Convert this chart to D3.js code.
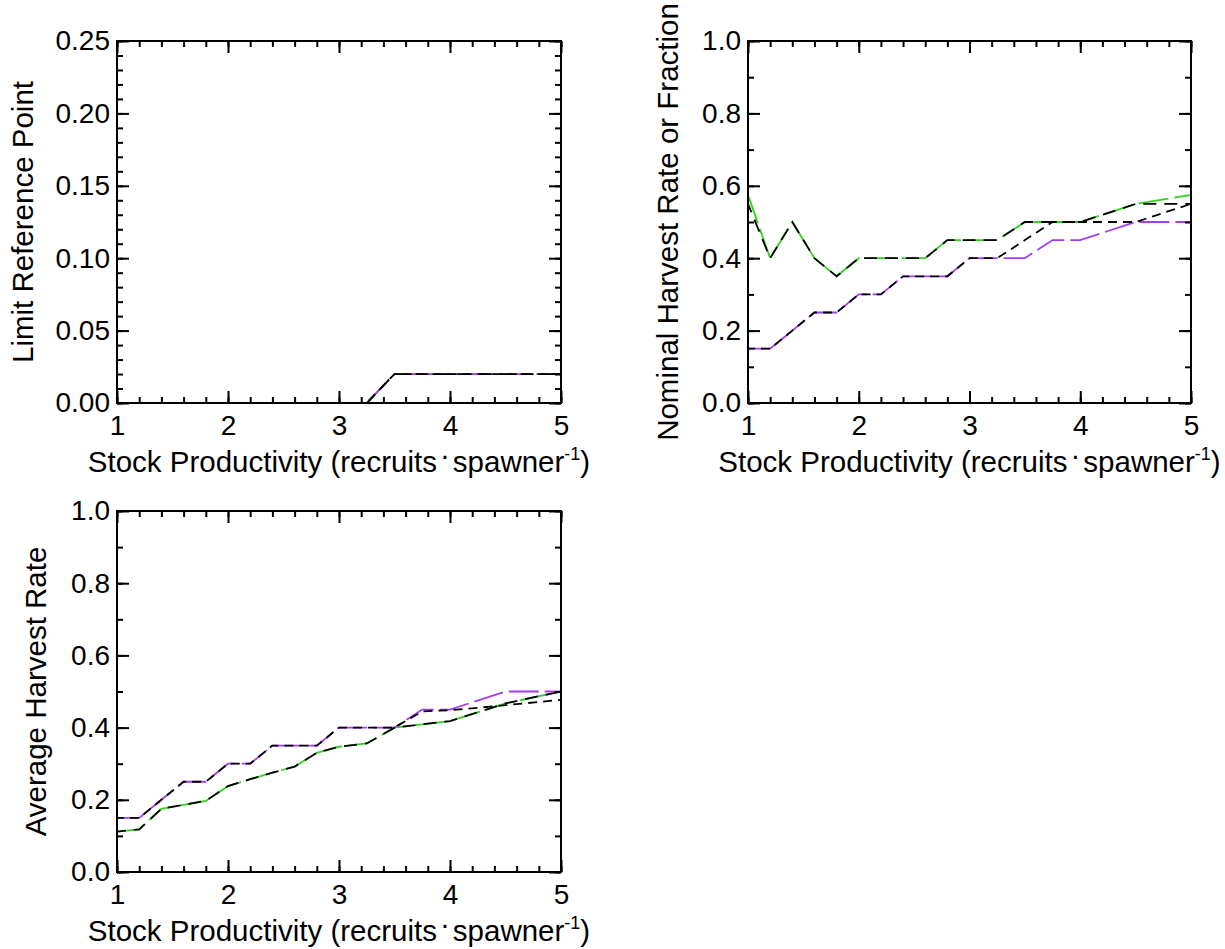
<!DOCTYPE html>
<html><head><meta charset="utf-8">
<script src="https://cdn.jsdelivr.net/npm/d3@7"></script>
<style>
body{margin:0;background:#fff}
svg text{font-family:"Liberation Sans",Arial,Helvetica,sans-serif;fill:#000}
</style>
</head><body>
<svg id="chart" width="1225" height="949"></svg>
<script>
// Stock productivity values (recruits per spawner) shared by every series
const productivity = [1, 1.2, 1.4, 1.6, 1.8, 2, 2.2, 2.4, 2.6, 2.8, 3, 3.25, 3.5, 3.75, 4, 4.5, 5];

// Limit reference point
const lrpGreen      = [0,0,0,0,0,0,0,0,0,0,0,0,0.02,0.02,0.02,0.02,0.02];
const lrpPurple     = [0,0,0,0,0,0,0,0,0,0,0,0,0.02,0.02,0.02,0.02,0.02];
const lrpGreenRef   = [0,0,0,0,0,0,0,0,0,0,0,0,0.02,0.02,0.02,0.02,0.02];
const lrpPurpleRef  = [0,0,0,0,0,0,0,0,0,0,0,0,0.02,0.02,0.02,0.02,0.02];

// Nominal harvest rate or fraction
const nomGreen      = [0.575,0.40,0.50,0.40,0.35,0.40,0.40,0.40,0.40,0.45,0.45,0.45,0.50,0.50,0.50,0.55,0.575];
const nomGreenRef   = [0.55,0.40,0.50,0.40,0.35,0.40,0.40,0.40,0.40,0.45,0.45,0.45,0.50,0.50,0.50,0.55,0.55];
const nomPurple     = [0.15,0.15,0.20,0.25,0.25,0.30,0.30,0.35,0.35,0.35,0.40,0.40,0.40,0.45,0.45,0.50,0.50];
const nomPurpleRef  = [0.15,0.15,0.20,0.25,0.25,0.30,0.30,0.35,0.35,0.35,0.40,0.40,0.45,0.50,0.50,0.50,0.55];

// Average harvest rate
const avgGreen      = [0.112,0.118,0.175,0.186,0.197,0.238,0.257,0.275,0.292,0.33,0.347,0.356,0.40,0.409,0.418,0.467,0.50];
const avgGreenRef   = [0.112,0.118,0.175,0.186,0.197,0.238,0.257,0.275,0.292,0.33,0.347,0.356,0.40,0.409,0.418,0.467,0.50];
const avgPurple     = [0.15,0.15,0.20,0.25,0.25,0.30,0.30,0.35,0.35,0.35,0.40,0.40,0.40,0.45,0.45,0.50,0.50];
const avgPurpleRef  = [0.15,0.15,0.20,0.25,0.25,0.30,0.30,0.35,0.35,0.35,0.40,0.40,0.40,0.445,0.448,0.462,0.477];

// Axis ticks
const xMajorTicks = [1, 2, 3, 4, 5];
const xMinorTicks = d3.range(1, 5.0001, 0.2);
const lrpMajorTicks = [0, 0.05, 0.10, 0.15, 0.20, 0.25];
const lrpMinorTicks = d3.range(0, 0.2501, 0.01);
const rateMajorTicks = [0, 0.2, 0.4, 0.6, 0.8, 1.0];
const rateMinorTicks = d3.range(0, 1.0001, 0.1);

const GREEN = "#2fd41c", PURPLE = "#a23cf8";
const TICK_FONT = 28, TITLE_FONT = 29.5;

const svg = d3.select("#chart");

const panels = [
  {left:117, top:41, right:561, bottom:403, yMax:0.25, yMajor:lrpMajorTicks, yMinor:lrpMinorTicks, fmt:d3.format(".2f"),
   title:"Limit Reference Point", titleX:33,
   green:lrpGreen, purple:lrpPurple, greenRef:lrpGreenRef, purpleRef:lrpPurpleRef},
  {left:748, top:41, right:1191, bottom:403, yMax:1.0, yMajor:rateMajorTicks, yMinor:rateMinorTicks, fmt:d3.format(".1f"),
   title:"Nominal Harvest Rate or Fraction", titleX:678,
   green:nomGreen, purple:nomPurple, greenRef:nomGreenRef, purpleRef:nomPurpleRef},
  {left:117, top:511, right:561, bottom:872, yMax:1.0, yMajor:rateMajorTicks, yMinor:rateMinorTicks, fmt:d3.format(".1f"),
   title:"Average Harvest Rate", titleX:46,
   green:avgGreen, purple:avgPurple, greenRef:avgGreenRef, purpleRef:avgPurpleRef}
];

panels.forEach(p => {
  const w = p.right - p.left, h = p.bottom - p.top;
  const x = d3.scaleLinear().domain([1, 5]).range([0, w]);
  const y = d3.scaleLinear().domain([0, p.yMax]).range([h, 0]);
  const g = svg.append("g").attr("transform", `translate(${p.left},${p.top})`);

  const line = d3.line().x((d, i) => x(productivity[i])).y(d => y(d));

  const series = [
    {v:p.green,     color:GREEN,  dash:"30,6",  off:0},
    {v:p.purple,    color:PURPLE, dash:"30,6",  off:0},
    {v:p.greenRef,  color:"#000", dash:"13,8",  off:4},
    {v:p.purpleRef, color:"#000", dash:"9,6",   off:2}
  ];
  series.forEach(s => {
    g.append("path").datum(s.v)
      .attr("d", line)
      .attr("fill", "none")
      .attr("stroke", s.color)
      .attr("stroke-width", 1.8)
      .attr("stroke-dasharray", s.dash)
      .attr("stroke-dashoffset", s.off);
  });

  // inward ticks on all four sides
  const styleAxis = sel => {
    sel.select(".domain").remove();
    sel.selectAll(".tick line").attr("stroke", "#000").attr("stroke-width", 2);
    sel.selectAll("text").style("font-size", TICK_FONT + "px")
      .style("font-family", '"Liberation Sans",Arial,sans-serif').attr("fill", "#000");
  };
  const none = () => "";

  g.append("g").attr("transform", `translate(0,${h})`)
    .call(d3.axisBottom(x).tickValues(xMinorTicks).tickSize(-6).tickFormat(none)).call(styleAxis);
  g.append("g").attr("transform", `translate(0,${h})`)
    .call(d3.axisBottom(x).tickValues(xMajorTicks).tickSize(-12).tickPadding(12).tickFormat(d3.format("d"))).call(styleAxis);
  g.append("g")
    .call(d3.axisTop(x).tickValues(xMinorTicks).tickSize(-6).tickFormat(none)).call(styleAxis);
  g.append("g")
    .call(d3.axisTop(x).tickValues(xMajorTicks).tickSize(-12).tickFormat(none)).call(styleAxis);

  g.append("g")
    .call(d3.axisLeft(y).tickValues(p.yMinor).tickSize(-6).tickFormat(none)).call(styleAxis);
  g.append("g")
    .call(d3.axisLeft(y).tickValues(p.yMajor).tickSize(-12).tickPadding(7).tickFormat(p.fmt)).call(styleAxis);
  g.append("g").attr("transform", `translate(${w},0)`)
    .call(d3.axisRight(y).tickValues(p.yMinor).tickSize(-6).tickFormat(none)).call(styleAxis);
  g.append("g").attr("transform", `translate(${w},0)`)
    .call(d3.axisRight(y).tickValues(p.yMajor).tickSize(-12).tickFormat(none)).call(styleAxis);

  // frame
  g.append("rect").attr("x", 0).attr("y", 0).attr("width", w).attr("height", h)
    .attr("fill", "none").attr("stroke", "#000").attr("stroke-width", 2);

  // x-axis title
  const xt = svg.append("text")
    .attr("x", (p.left + p.right) / 2).attr("y", p.bottom + 69)
    .attr("text-anchor", "middle").style("font-size", TITLE_FONT + "px");
  xt.append("tspan").text("Stock Productivity (recruits");
  xt.append("tspan").attr("dx", 3).attr("dy", -7).text("·");
  xt.append("tspan").attr("dx", 3).attr("dy", 7).text("spawner");
  xt.append("tspan").attr("dy", -12).style("font-size", "18px").text("-1");
  xt.append("tspan").attr("dy", 12).text(")");

  // y-axis title
  svg.append("text")
    .attr("transform", `translate(${p.titleX},${(p.top + p.bottom) / 2}) rotate(-90)`)
    .attr("text-anchor", "middle").style("font-size", TITLE_FONT + "px")
    .text(p.title);
});
</script>
</body></html>
